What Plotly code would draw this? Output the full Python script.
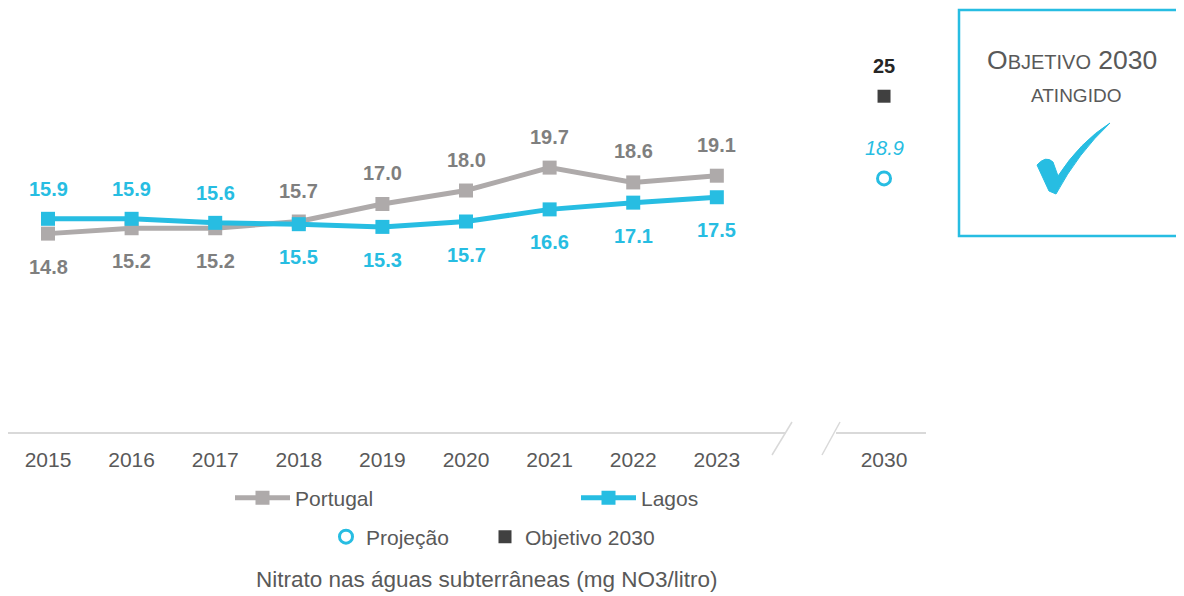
import plotly.graph_objects as go

years = ["2015", "2016", "2017", "2018", "2019", "2020", "2021", "2022", "2023"]
tick_labels = years + ["2030"]
portugal = [14.8, 15.2, 15.2, 15.7, 17.0, 18.0, 19.7, 18.6, 19.1]
lagos = [15.9, 15.9, 15.6, 15.5, 15.3, 15.7, 16.6, 17.1, 17.5]
portugal_label_pos = ["below", "below", "below", "above", "above", "above", "above", "above", "above"]
lagos_label_pos = ["above", "above", "above", "below", "below", "below", "below", "below", "below"]
projection_2030 = [18.9]
target_2030 = [25]

x_years = list(range(len(years)))
x_2030 = [len(years) + 1]
tickvals = x_years + x_2030

GRAY_LINE = "#aeaaaa"
GRAY_TEXT = "#7f7f7f"
CYAN = "#27bde2"
DARK = "#404040"
TEXT = "#595959"
FONT = "Liberation Sans, Arial, sans-serif"

# page offset (body margin) compensation
OFF = 8
FIG_W, FIG_H = 1184 - OFF, 596 - OFF
PL, PR, PT, PB = 8, 926, 10, 433  # plot area in screen pixels
W = PR - PL
H = PB - PT


def px_x(p):
    return (p - PL) / W


def px_y(p):
    return (PB - p) / H


fig = go.Figure()
fig.add_trace(go.Scatter(x=x_years, y=portugal, name="Portugal", mode="lines+markers",
                         line=dict(color=GRAY_LINE, width=5),
                         marker=dict(symbol="square", size=14, color=GRAY_LINE),
                         legend="legend"))
fig.add_trace(go.Scatter(x=x_years, y=lagos, name="Lagos", mode="lines+markers",
                         line=dict(color=CYAN, width=5),
                         marker=dict(symbol="square", size=14, color=CYAN),
                         legend="legend2"))
fig.add_trace(go.Scatter(x=x_2030, y=projection_2030, name="Projeção", mode="markers",
                         marker=dict(symbol="circle-open", size=13, color=CYAN, line=dict(width=3)),
                         legend="legend3"))
fig.add_trace(go.Scatter(x=x_2030, y=target_2030, name="Objetivo 2030", mode="markers",
                         marker=dict(symbol="square", size=13, color=DARK),
                         legend="legend4"))

annotations = []
for xi, v, pos in zip(x_years, portugal, portugal_label_pos):
    annotations.append(dict(x=xi, y=v, xref="x", yref="y", text=f"<b>{v:.1f}</b>", showarrow=False,
                            yshift=31 if pos == "above" else -33,
                            font=dict(size=20, color=GRAY_TEXT, family=FONT)))
for xi, v, pos in zip(x_years, lagos, lagos_label_pos):
    annotations.append(dict(x=xi, y=v, xref="x", yref="y", text=f"<b>{v:.1f}</b>", showarrow=False,
                            yshift=30 if pos == "above" else -33,
                            font=dict(size=20, color=CYAN, family=FONT)))
annotations.append(dict(x=x_2030[0], y=projection_2030[0], xref="x", yref="y",
                        text=f"<i>{projection_2030[0]:.1f}</i>", showarrow=False, yshift=30,
                        font=dict(size=20, color=CYAN, family=FONT)))
annotations.append(dict(x=x_2030[0], y=target_2030[0], xref="x", yref="y",
                        text=f"<b>{target_2030[0]}</b>", showarrow=False, yshift=30,
                        font=dict(size=20, color="#262626", family=FONT)))

# Objective box text
annotations.append(dict(x=px_x(1072), y=px_y(60), xref="paper", yref="paper", showarrow=False,
                        xanchor="center", yanchor="middle",
                        text="O<span style='font-size:20px'>BJETIVO</span> 2030",
                        font=dict(size=26.5, color=TEXT, family=FONT)))
annotations.append(dict(x=px_x(1076), y=px_y(96), xref="paper", yref="paper", showarrow=False,
                        xanchor="center", yanchor="middle",
                        text="ATINGIDO", font=dict(size=19, color=TEXT, family=FONT)))
annotations.append(dict(x=px_x(486), y=px_y(579), xref="paper", yref="paper", showarrow=False,
                        xanchor="center", yanchor="middle",
                        text="Nitrato nas águas subterrâneas (mg NO3/litro)",
                        font=dict(size=22.5, color=TEXT, family=FONT)))

AX = "#d9d9d9"
shapes = [
    dict(type="line", xref="paper", yref="paper", x0=px_x(8), x1=px_x(786), y0=0, y1=0,
         line=dict(color=AX, width=2)),
    dict(type="line", xref="paper", yref="paper", x0=px_x(836), x1=px_x(926), y0=0, y1=0,
         line=dict(color=AX, width=2)),
    dict(type="line", xref="paper", yref="paper", x0=px_x(772), x1=px_x(792), y0=px_y(455), y1=px_y(422),
         line=dict(color=AX, width=1.5)),
    dict(type="line", xref="paper", yref="paper", x0=px_x(822), x1=px_x(840), y0=px_y(455), y1=px_y(422),
         line=dict(color=AX, width=1.5)),
    dict(type="rect", xref="paper", yref="paper", x0=px_x(959), x1=px_x(1181), y0=px_y(236), y1=px_y(10),
         line=dict(color=CYAN, width=2.5)),
    # check mark
    dict(type="path", xref="paper", yref="paper", fillcolor=CYAN, line=dict(color=CYAN, width=1),
         path=(f"M {px_x(1037)} {px_y(165)} "
               f"Q {px_x(1046)} {px_y(155)} {px_x(1053)} {px_y(162)} "
               f"L {px_x(1058)} {px_y(176)} "
               f"Q {px_x(1080)} {px_y(142)} {px_x(1110)} {px_y(123)} "
               f"Q {px_x(1078)} {px_y(153)} {px_x(1056)} {px_y(194)} "
               f"L {px_x(1049)} {px_y(191)} Z")),
]

x_lo = -0.4785
x_hi = 10.502


def leg(xpx, ypx, iw=30):
    return dict(orientation="h", x=px_x(xpx), y=px_y(ypx), xanchor="left", yanchor="middle",
                itemwidth=iw, font=dict(size=21, color=TEXT), bgcolor="rgba(0,0,0,0)")


fig.update_layout(
    width=FIG_W, height=FIG_H,
    margin=dict(l=PL - OFF, r=FIG_W - (PR - OFF), t=PT - OFF, b=FIG_H - (PB - OFF), autoexpand=False),
    paper_bgcolor="white", plot_bgcolor="white",
    font=dict(family=FONT, color=TEXT, size=21),
    xaxis=dict(range=[x_lo, x_hi], tickvals=tickvals, ticktext=tick_labels, showgrid=False,
               zeroline=False, showline=False, ticks="", tickfont=dict(size=21, color=TEXT),
               ticklabelstandoff=12),
    yaxis=dict(range=[0, 31.4], visible=False, showgrid=False, zeroline=False),
    showlegend=True,
    legend=leg(230, 498, 55),
    legend2=leg(576, 498, 55),
    legend3=leg(326, 537),
    legend4=leg(485, 537),
    annotations=annotations,
    shapes=shapes,
)

fig.write_html("out.html")
